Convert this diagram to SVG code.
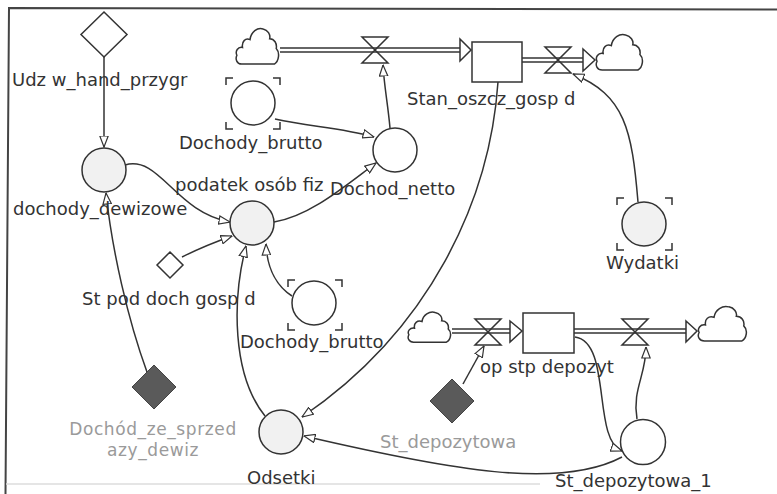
<svg xmlns="http://www.w3.org/2000/svg" xmlns:xlink="http://www.w3.org/1999/xlink" width="777" height="494" viewBox="0 0 777 494">
<style>
.ln{fill:none;stroke:#333;stroke-width:1.5}
.nd{fill:#fff;stroke:#333;stroke-width:1.5}
.lt{fill:#f1f1f1;stroke:#333;stroke-width:1.5}
.dk{fill:#5a5a5a;stroke:#444;stroke-width:1}
.br{fill:none;stroke:#333;stroke-width:1.5}
.lab{font-family:"DejaVu Sans",Verdana,sans-serif;font-size:18px;fill:#333}
.gh{fill:#9a9a9a}
.gs{font-size:17px;letter-spacing:0.6px}
.pipeo{fill:none;stroke:#333;stroke-width:5.5}
.pipei{fill:none;stroke:#fff;stroke-width:2.5}
.fa{fill:#fff;stroke:#333;stroke-width:1.5}
</style>
<defs>
<marker id="a" viewBox="0 0 12 10" refX="11.5" refY="5" markerWidth="12" markerHeight="10" orient="auto" markerUnits="userSpaceOnUse">
<path d="M0.5,0.8 L11.5,5 L0.5,9.2 Z" fill="#fff" stroke="#333" stroke-width="1.2"/>
</marker>
<symbol id="cloud" viewBox="0 0 48 40" preserveAspectRatio="none">
<path d="M7,39 C2,39 0,34 2,30 C0,26 3,21 8,22 C7,16 11,12 16,14 C17,6 24,1 30,3 C35,4 38,9 37,13 C42,13 45,18 44,23 C48,27 47,36 42,39 Z" fill="#fff" stroke="#333" stroke-width="1.5" vector-effect="non-scaling-stroke"/>
</symbol>
<path id="valve" d="M-13,-13 L13,-13 L-13,13 L13,13 Z" fill="none" stroke="#333" stroke-width="1.5"/>
</defs>

<g id="frame">
<path d="M777,9.5 L9,8 L5.5,494" fill="none" stroke="#444" stroke-width="2"/>
<line x1="6" y1="484" x2="540" y2="484" stroke="#dcdcdc" stroke-width="1.5"/>
</g>

<g id="flows">
<use xlink:href="#cloud" x="235" y="26" width="45" height="39"/>
<path class="pipeo" d="M280,50 L461,50"/><path class="pipei" d="M280,50 L461,50"/>
<use xlink:href="#valve" x="375" y="50"/>
<path class="fa" d="M460,39 L471,50 L460,61 Z"/>
<path class="pipeo" d="M522,60 L584,60"/><path class="pipei" d="M522,60 L584,60"/>
<use xlink:href="#valve" x="558" y="60"/>
<path class="fa" d="M583,49 L595,60 L583,71 Z"/>
<use xlink:href="#cloud" x="595" y="32" width="49" height="39"/>

<use xlink:href="#cloud" x="407" y="310" width="45" height="33"/>
<path class="pipeo" d="M452,331 L511,331"/><path class="pipei" d="M452,331 L511,331"/>
<use xlink:href="#valve" x="488" y="332"/>
<path class="fa" d="M510,321 L522,331 L510,342 Z"/>
<path class="pipeo" d="M574,331 L687,331"/><path class="pipei" d="M574,331 L687,331"/>
<use xlink:href="#valve" x="635" y="332"/>
<path class="fa" d="M686,321 L697,331 L686,342 Z"/>
<use xlink:href="#cloud" x="697" y="304" width="51" height="38"/>
</g>

<g id="connectors">
<path class="ln" marker-end="url(#a)" d="M104,57 L104,147"/>
<path class="ln" marker-end="url(#a)" d="M275,119 C310,127 340,127 374,137"/>
<path class="ln" marker-end="url(#a)" d="M390,128 C388,105 384,85 383,65"/>
<path class="ln" marker-end="url(#a)" d="M274,222 C310,216 345,186 376,163"/>
<path class="ln" marker-end="url(#a)" d="M125,165 C160,155 175,212 230,222"/>
<path class="ln" marker-end="url(#a)" d="M182,257 C200,248 215,242 232,236"/>
<path class="ln" marker-end="url(#a)" d="M147,372 C128,320 112,250 106,193"/>
<path class="ln" marker-end="url(#a)" d="M265,416 C232,375 232,300 246,246"/>
<path class="ln" marker-end="url(#a)" d="M292,296 C278,287 267,270 266,244"/>
<path class="ln" marker-end="url(#a)" d="M498,82 C490,200 430,330 302,417"/>
<path class="ln" marker-end="url(#a)" d="M638,202 C632,130 625,95 573,74"/>
<path class="ln" marker-end="url(#a)" d="M463,384 L484,346"/>
<path class="ln" marker-end="url(#a)" d="M575,337 C612,342 592,440 622,451"/>
<path class="ln" marker-end="url(#a)" d="M637,419 C632,390 646,375 646,347"/>
<path class="ln" marker-end="url(#a)" d="M622,457 C560,490 450,470 304,436"/>
</g>

<g id="udz">
<path class="nd" d="M104,12 L127,34.5 L104,57 L81,34.5 Z"/>
<text class="lab" x="12" y="86">Udz w_hand_przygr</text>
</g>

<g id="stan">
<rect class="nd" x="472" y="42" width="50" height="40"/>
<text class="lab" x="407" y="105">Stan_oszcz_gosp d</text>
</g>

<g id="dochody_brutto_1">
<circle class="nd" cx="253" cy="103" r="22"/>
<path class="br" d="M226,85 V78 H233 M273,78 H280 V85 M226,122 V129 H233 M273,129 H280 V122"/>
<text class="lab" x="179" y="149">Dochody_brutto</text>
</g>

<g id="dochod_netto">
<circle class="nd" cx="395" cy="150" r="22"/>
<text class="lab" x="330" y="195">Dochod_netto</text>
</g>

<g id="dochody_dewizowe">
<circle class="lt" cx="104" cy="170" r="22"/>
<text class="lab" x="13" y="215">dochody_dewizowe</text>
</g>

<g id="podatek">
<circle class="lt" cx="252" cy="223" r="22"/>
<text class="lab" x="175" y="191">podatek osób fiz</text>
</g>

<g id="st_pod">
<path class="nd" d="M170,252 L183,265 L170,278 L157,265 Z"/>
<text class="lab" x="82" y="305">St pod doch gosp d</text>
</g>

<g id="dochody_brutto_2">
<circle class="nd" cx="314" cy="303" r="22"/>
<path class="br" d="M288,287 V280 H295 M335,280 H342 V287 M288,323 V330 H295 M335,330 H342 V323"/>
<text class="lab" x="240" y="348">Dochody_brutto</text>
</g>

<g id="wydatki">
<circle class="lt" cx="644" cy="224" r="22"/>
<path class="br" d="M617,205 V198 H624 M665,198 H672 V205 M617,243 V250 H624 M665,250 H672 V243"/>
<text class="lab" x="606" y="269">Wydatki</text>
</g>

<g id="dochod_ze_sprzedazy">
<path class="dk" d="M154,365 L176,387 L154,409 L132,387 Z"/>
<text class="lab gh gs" x="153" y="435" text-anchor="middle">Dochód_ze_sprzed</text>
<text class="lab gh gs" x="153" y="456" text-anchor="middle">azy_dewiz</text>
</g>

<g id="odsetki">
<circle class="lt" cx="281" cy="432" r="22"/>
<text class="lab" x="247" y="484">Odsetki</text>
</g>

<g id="st_depozytowa">
<path class="dk" d="M452,379 L474,401 L452,423 L430,401 Z"/>
<text class="lab gh" x="380" y="448">St_depozytowa</text>
</g>

<g id="depozyt_stock">
<rect class="nd" x="523" y="313" width="51" height="40"/>
<text class="lab" x="480" y="373">op stp depozyt</text>
</g>

<g id="st_depozytowa_1">
<circle class="nd" cx="643" cy="442" r="22.5"/>
<text class="lab" x="555" y="487">St_depozytowa_1</text>
</g>
</svg>
